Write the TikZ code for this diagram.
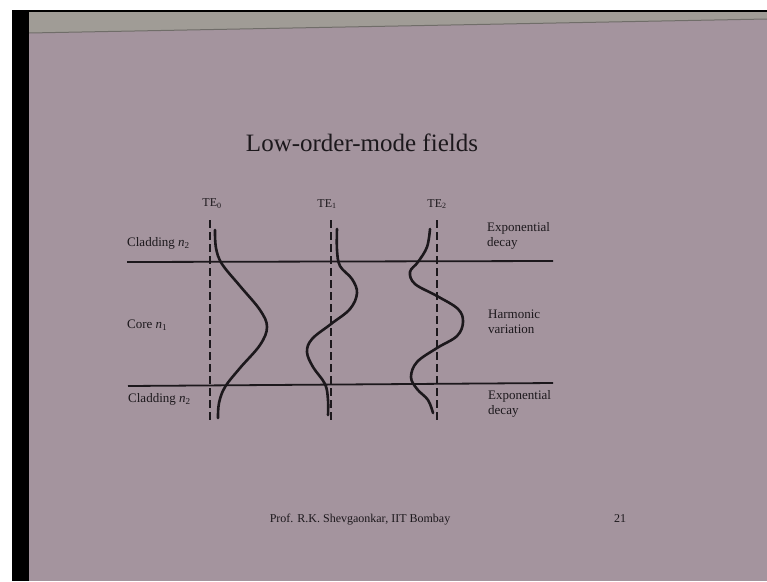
\documentclass[tikz,border=0pt]{standalone}
\usepackage{fontspec}
\setmainfont{Liberation Serif}
\definecolor{slide}{RGB}{164,148,158}
\definecolor{band}{RGB}{160,156,150}
\definecolor{ink}{RGB}{28,24,28}
\begin{document}
\begin{tikzpicture}[x=1pt,y=-1pt,
  lbl/.style={text=ink,font=\fontsize{13}{15}\selectfont,inner sep=0pt,align=left},
  telbl/.style={text=ink,font=\fontsize{12}{14}\selectfont,inner sep=0pt},
  axisline/.style={draw=ink,line width=1.8pt},
  guide/.style={draw=ink,line width=1.1pt,dash pattern=on 8pt off 4pt},
  mode/.style={draw=ink,line width=2.6pt,line cap=round}]
\useasboundingbox (0,0) rectangle (767,581);
% photo frame
\fill[white] (0,0) rectangle (767,581);
\fill[slide] (29,12) rectangle (767,581);
\fill[band] (29,12) -- (767,12) -- (767,19) -- (29,33) -- cycle;
\draw[color=band!70!black,line width=1pt] (29,33) -- (767,19);
\fill[black] (12,10) rectangle (29,581);
\fill[black] (12,10) rectangle (767,12);
% title
\node[text=ink,font=\fontsize{25}{30}\selectfont,inner sep=0pt] (title) at (362,143) {Low-order-mode fields};
% boundaries
\draw[axisline] (127,262) -- (553,261);
\draw[axisline] (128,386) -- (553,383);
% dashed guides
\draw[guide] (210,220) -- (210,422);
\draw[guide] (331,220) -- (331,422);
\draw[guide] (437,220) -- (437,422);
% mode labels
\node[telbl] (te0) at (212,204) {TE\textsubscript{0}};
\node[telbl] (te1) at (327,204) {TE\textsubscript{1}};
\node[telbl] (te2) at (437,204) {TE\textsubscript{2}};
% region labels
\node[lbl,anchor=west] (clad1) at (127,243) {Cladding \textit{n}\textsubscript{2}};
\node[lbl,anchor=west] (core) at (127,325) {Core \textit{n}\textsubscript{1}};
\node[lbl,anchor=west] (clad2) at (128,399) {Cladding \textit{n}\textsubscript{2}};
\node[lbl,anchor=west] (exp1) at (487,236) {Exponential\\decay};
\node[lbl,anchor=west] (harm) at (488,322) {Harmonic\\variation};
\node[lbl,anchor=west] (exp2) at (488,404) {Exponential\\decay};
% field curves
\draw[mode] plot[smooth,tension=0.6] coordinates {(215,230) (216,248) (222,264) (240,286) (260,310) (267,327) (260,345) (240,368) (225,387) (219,403) (218,418)};
\draw[mode] plot[smooth,tension=0.6] coordinates {(337,229) (337,250) (340,266) (352,279) (357,293) (350,309) (331,324) (312,339) (307,352) (313,367) (325,384) (328,400) (328,415)};
\draw[mode] plot[smooth,tension=0.6] coordinates {(430,229) (427,247) (418,262) (410,272) (415,284) (437,296) (458,309) (463,322) (457,336) (437,348) (417,362) (411,377) (417,389) (428,400) (433,413)};
% footer
\node[text=ink,font=\fontsize{12}{14}\selectfont,inner sep=0pt] (footer) at (360,520) {Prof. R.K. Shevgaonkar, IIT Bombay};
\node[text=ink,font=\fontsize{12}{14}\selectfont,inner sep=0pt] (page) at (620,519) {21};
\end{tikzpicture}
\end{document}
